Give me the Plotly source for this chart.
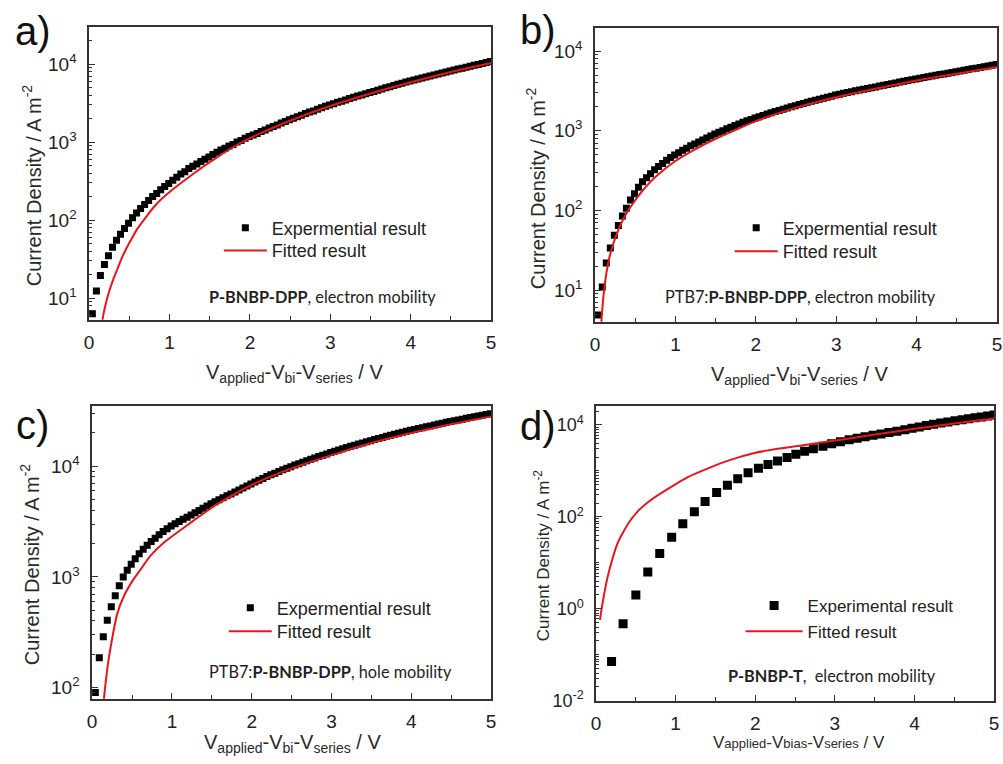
import plotly.graph_objects as go

# ---------------- data ----------------
# voltage sweep (V_applied - V_bi - V_series, V) shared by panels a, b, c
V_SWEEP = [0.04, 0.09, 0.14, 0.19, 0.24, 0.29, 0.34, 0.39, 0.44, 0.49,
           0.54, 0.59, 0.64, 0.69, 0.74, 0.79, 0.84, 0.89, 0.94, 0.99,
           1.04, 1.09, 1.14, 1.19, 1.24, 1.29, 1.34, 1.39, 1.44, 1.49,
           1.54, 1.59, 1.64, 1.69, 1.74, 1.79, 1.84, 1.89, 1.94, 1.99,
           2.04, 2.09, 2.14, 2.19, 2.24, 2.29, 2.34, 2.39, 2.44, 2.49,
           2.54, 2.59, 2.64, 2.69, 2.74, 2.79, 2.84, 2.89, 2.94, 2.99,
           3.04, 3.09, 3.14, 3.19, 3.24, 3.29, 3.34, 3.39, 3.44, 3.49,
           3.54, 3.59, 3.64, 3.69, 3.74, 3.79, 3.84, 3.89, 3.94, 3.99,
           4.04, 4.09, 4.14, 4.19, 4.24, 4.29, 4.34, 4.39, 4.44, 4.49,
           4.54, 4.59, 4.64, 4.69, 4.74, 4.79, 4.84, 4.89, 4.94, 4.99]

# a) P-BNBP-DPP, electron mobility
A_EXP = [6.3, 12.3, 19.5, 27, 35, 45, 55, 66, 78, 91,
         107, 123, 141, 158, 178, 200, 219, 245, 269, 295,
         324, 355, 389, 417, 457, 490, 525, 562, 603, 646,
         692, 741, 794, 832, 891, 933, 1000, 1047, 1122, 1175,
         1230, 1288, 1365, 1430, 1514, 1585, 1660, 1758, 1841, 1928,
         2018, 2113, 2213, 2317, 2427, 2512, 2630, 2754, 2884, 2985,
         3090, 3236, 3350, 3467, 3631, 3758, 3890, 4027, 4169, 4315,
         4467, 4624, 4786, 4955, 5129, 5309, 5495, 5689, 5888, 6067,
         6252, 6442, 6637, 6839, 7047, 7261, 7482, 7709, 7943, 8166,
         8395, 8630, 8872, 9120, 9376, 9638, 9908, 10186, 10471, 10765]
A_FIT_V = [0.16, 0.17, 0.2, 0.25, 0.3, 0.35, 0.4, 0.45, 0.5, 0.55, 0.6, 0.7, 0.8,
           0.9, 1.0, 1.2, 1.4, 1.6, 1.8, 2.0, 2.5, 3.0, 3.5, 4.0, 4.5, 5.0]
A_FIT_J = [4.5, 5.6, 7.9, 12.3, 17.4, 23.4, 31.6, 40.7, 51.3, 63.1, 77.6, 107, 145,
           186, 229, 331, 468, 646, 871, 1122, 1880, 2900, 4200, 5850, 7900, 10300]

# b) PTB7:P-BNBP-DPP, electron mobility
B_EXP = [4.9, 11.0, 21.9, 33.9, 49, 64.6, 85.1, 107, 135, 162,
         195, 229, 257, 288, 324, 355, 389, 427, 462, 495,
         531, 569, 603, 646, 684, 724, 767, 813, 861, 912,
         955, 1000, 1059, 1109, 1161, 1216, 1274, 1334, 1380, 1445,
         1496, 1549, 1622, 1679, 1738, 1799, 1862, 1928, 1995, 2065,
         2138, 2203, 2270, 2339, 2410, 2483, 2559, 2636, 2716, 2799,
         2871, 2944, 3020, 3090, 3162, 3236, 3311, 3388, 3467, 3548,
         3631, 3715, 3802, 3890, 3981, 4074, 4169, 4266, 4365, 4467,
         4560, 4656, 4753, 4853, 4955, 5058, 5164, 5272, 5383, 5495,
         5610, 5728, 5848, 5970, 6095, 6223, 6353, 6486, 6622, 6761]
B_FIT_V = [0.07, 0.08, 0.09, 0.1, 0.11, 0.13, 0.15, 0.18, 0.21, 0.25, 0.3, 0.35, 0.4,
           0.5, 0.6, 0.75, 1.0, 1.25, 1.5, 1.75, 2.0, 2.5, 3.0, 3.5, 4.0, 4.5, 5.0]
B_FIT_J = [2.8, 4.2, 5.75, 7.6, 9.5, 13.8, 18.6, 26.3, 33.9, 44.7, 60.3, 77.6, 95.5,
           135, 182, 263, 417, 589, 794, 1023, 1318, 1950, 2630, 3390, 4266, 5188, 6310]

# c) PTB7:P-BNBP-DPP, hole mobility
C_EXP = [90.2, 186, 288, 407, 537, 676, 832, 1000, 1148, 1303,
         1462, 1622, 1778, 1928, 2089, 2239, 2399, 2570, 2723, 2884,
         3020, 3162, 3311, 3467, 3631, 3802, 3981, 4169, 4365, 4571,
         4764, 4966, 5176, 5395, 5623, 5861, 6109, 6368, 6637, 6918,
         7194, 7482, 7762, 8054, 8356, 8650, 8954, 9268, 9594, 9908,
         10233, 10544, 10864, 11194, 11535, 11885, 12218, 12560, 12912, 13274,
         13646, 13996, 14355, 14723, 15101, 15488, 15849, 16218, 16596, 16982,
         17378, 17783, 18197, 18621, 19011, 19409, 19815, 20230, 20654, 21086,
         21478, 21878, 22284, 22699, 23121, 23550, 23988, 24434, 24889, 25351,
         25763, 26182, 26607, 27040, 27479, 27925, 28379, 28840, 29309, 29785]
C_FIT_V = [0.13, 0.15, 0.17, 0.19, 0.21, 0.25, 0.31, 0.4, 0.52, 0.6, 0.73, 0.9,
           1.14, 1.35, 1.55, 1.75, 1.97, 2.25, 2.5, 3.0, 3.5, 4.0, 4.5, 5.0]
C_FIT_J = [50, 81, 112, 148, 186, 275, 452, 676, 955, 1148, 1549, 2042,
           2754, 3548, 4467, 5433, 6607, 8128, 9550, 12589, 16218, 19953, 23988, 28184]

# d) P-BNBP-T, electron mobility
D_EXP_V = [0.195, 0.34, 0.50, 0.65, 0.80, 0.95, 1.09, 1.235, 1.37, 1.515,
           1.65, 1.78, 1.91, 2.04, 2.16, 2.28, 2.40, 2.51, 2.62, 2.73,
           2.85, 2.96, 3.07, 3.18, 3.28, 3.38, 3.48, 3.58, 3.68, 3.78,
           3.88, 3.97, 4.06, 4.15, 4.24, 4.33, 4.42, 4.51, 4.60, 4.68,
           4.76, 4.84, 4.92, 5.00]
D_EXP_J = [0.071, 0.47, 2.0, 6.3, 16, 36, 71, 129, 216, 339,
           484, 676, 912, 1148, 1380, 1641, 1950, 2291, 2661, 3020,
           3428, 3890, 4315, 4732, 5129, 5559, 5957, 6383, 6839, 7328,
           7852, 8414, 9016, 9661, 10351, 10965, 11614, 12303, 13032, 13646,
           14289, 14962, 15668, 16406]
D_FIT_V = [0.05, 0.07, 0.10, 0.14, 0.20, 0.26, 0.33, 0.43, 0.53, 0.64, 0.74, 0.95,
           1.16, 1.4, 1.57, 1.8, 1.99, 2.28, 2.6, 2.81, 3.1, 3.5, 4.0, 4.5, 5.0]
D_FIT_J = [0.575, 1.0, 2.0, 4.47, 11.2, 24.0, 42.7, 83.2, 135, 200, 269, 457,
           741, 1122, 1479, 1995, 2455, 3020, 3631, 4121, 4842, 6166, 8222, 10715, 13804]

X_TICKS = [0, 1, 2, 3, 4, 5]
X_MINOR = [0.5, 1.5, 2.5, 3.5, 4.5]

# ---------------- layout helpers ----------------
W, H = 1003, 764
FONT = "Liberation Sans, Arial, sans-serif"
NOTE_FONT = "Lato, Open Sans, sans-serif"
TXT = "#222222"
AX = "#333333"
RED = "#e8161b"


def fx(p):
    return p / W


def fy(p):
    return 1 - p / H


def log_minor(lo, hi, skip_major=()):
    vals = []
    for e in range(lo, hi + 1):
        for m in range(1, 10):
            if m == 1 and e in skip_major:
                continue
            vals.append(m * 10.0 ** e)
    return vals


panels = [
    dict(exp_x=V_SWEEP, exp_y=A_EXP, fit_x=A_FIT_V, fit_y=A_FIT_J,
         px=(85, 491), py=(27, 324), yr=[0.722, 4.48], ymaj=[1, 2, 3, 4],
         mlo=0, mhi=4, msize=7, leg="Expermential result",
         note="<b>P-BNBP-DPP</b>, electron mobility", note_xy=(321, 300),
         leg_x=216, rows=(231, 254), iw=43, label="a)", label_xy=(28, 31),
         ytitle_xy=(27, 188), xtitle_xy=(292, 378), tfs=20),
    dict(exp_x=V_SWEEP, exp_y=B_EXP, fit_x=B_FIT_V, fit_y=B_FIT_J,
         px=(596, 1002), py=(28, 326), yr=[0.605, 4.293], ymaj=[1, 2, 3, 4],
         mlo=0, mhi=4, msize=7, leg="Expermential result",
         note="PTB7:<b>P-BNBP-DPP</b>, electron mobility", note_xy=(804, 300),
         leg_x=732, rows=(231, 255), iw=43, label="b)", label_xy=(538, 30),
         ytitle_xy=(536, 191), xtitle_xy=(803, 380), tfs=20),
    dict(exp_x=V_SWEEP, exp_y=C_EXP, fit_x=C_FIT_V, fit_y=C_FIT_J,
         px=(88, 491), py=(411, 708), yr=[1.90, 4.547], ymaj=[2, 3, 4],
         mlo=1, mhi=4, msize=7, leg="Expermential result",
         note="PTB7:<b>P-BNBP-DPP</b>, hole mobility", note_xy=(329, 680),
         leg_x=221, rows=(616, 640), iw=43, label="c)", label_xy=(28, 431),
         ytitle_xy=(25, 572), xtitle_xy=(290, 753), tfs=20),
    dict(exp_x=D_EXP_V, exp_y=D_EXP_J, fit_x=D_FIT_V, fit_y=D_FIT_J,
         px=(597, 999), py=(411, 710), yr=[-2, 4.42], ymaj=[-2, 0, 2, 4],
         mlo=-2, mhi=4, msize=9, leg="Experimental result",
         note="<b>P-BNBP-T</b>,  electron mobility", note_xy=(835, 684),
         leg_x=743, rows=(614, 640), iw=57, label="d)", label_xy=(538, 432),
         ytitle_xy=(542, 563), xtitle_xy=(802, 752), tfs=17),
]

fig = go.Figure()
layout = dict(width=W, height=H, margin=dict(l=0, r=0, t=0, b=0),
              paper_bgcolor="white", plot_bgcolor="white", showlegend=True,
              font=dict(family=FONT, color=TXT), annotations=[])

leg_n = 0
for i, p in enumerate(panels, start=1):
    xa = "x" if i == 1 else f"x{i}"
    ya = "y" if i == 1 else f"y{i}"
    big = p["tfs"] == 20
    lg_names = []
    for _ in range(2):
        leg_n += 1
        lg_names.append("legend" if leg_n == 1 else f"legend{leg_n}")

    fig.add_trace(go.Scatter(x=p["exp_x"], y=p["exp_y"], mode="markers",
                             name=p["leg"], xaxis=xa, yaxis=ya, legend=lg_names[0],
                             showlegend=True,
                             marker=dict(symbol="square", size=p["msize"], color="black",
                                         line=dict(width=0)),
                             cliponaxis=True))
    fig.add_trace(go.Scatter(x=p["fit_x"], y=p["fit_y"], mode="lines",
                             name="Fitted result", xaxis=xa, yaxis=ya, legend=lg_names[1],
                             showlegend=True,
                             line=dict(color=RED, width=2, shape="spline", smoothing=0.6)))

    layout["xaxis" if i == 1 else f"xaxis{i}"] = dict(
        domain=[fx(p["px"][0]), fx(p["px"][1])], range=[0, 5],
        anchor=ya, showline=True, mirror=True, linecolor=AX, linewidth=1.5,
        ticks="inside", ticklen=6, tickwidth=1.2, tickcolor=AX,
        tickmode="array", tickvals=X_TICKS, ticktext=[str(t) for t in X_TICKS],
        tickfont=dict(size=19, family=FONT, color=TXT),
        ticklabelstandoff=5,
        minor=dict(tickmode="array", tickvals=X_MINOR, ticks="inside",
                   ticklen=4, tickwidth=1, tickcolor=AX),
        showgrid=False, zeroline=False, fixedrange=True)
    layout["yaxis" if i == 1 else f"yaxis{i}"] = dict(
        domain=[fy(p["py"][1]), fy(p["py"][0])], type="log", range=p["yr"],
        anchor=xa, showline=True, mirror=True, linecolor=AX, linewidth=1.5,
        ticks="inside", ticklen=6, tickwidth=1.2, tickcolor=AX,
        tickmode="array", tickvals=[10.0 ** e for e in p["ymaj"]],
        ticktext=[f"10<sup>{e}</sup>" for e in p["ymaj"]],
        tickfont=dict(size=19 if big else 18, family=FONT, color=TXT),
        ticklabelstandoff=7,
        minor=dict(tickmode="array",
                   tickvals=log_minor(p["mlo"], p["mhi"], skip_major=p["ymaj"]),
                   ticks="inside", ticklen=3, tickwidth=1, tickcolor=AX),
        showgrid=False, zeroline=False, fixedrange=True)
    for lgname, row in zip(lg_names, p["rows"]):
        layout[lgname] = dict(x=fx(p["leg_x"]), y=fy(row), visible=True,
                              xanchor="left", yanchor="middle", bgcolor="rgba(0,0,0,0)",
                              borderwidth=0,
                              font=dict(size=18 if big else 17, family=FONT, color=TXT),
                              itemwidth=p["iw"], tracegroupgap=0)

    anns = layout["annotations"]
    anns.append(dict(text=p["label"], x=fx(p["label_xy"][0]), y=fy(p["label_xy"][1]),
                     xref="paper", yref="paper", showarrow=False,
                     xanchor="center", yanchor="middle",
                     font=dict(size=40, family=FONT, color="#111111")))
    anns.append(dict(text=p["note"], x=fx(p["note_xy"][0]), y=fy(p["note_xy"][1]),
                     xref="paper", yref="paper", showarrow=False,
                     xanchor="center", yanchor="middle",
                     font=dict(size=16.3, family=NOTE_FONT, color=TXT)))
    anns.append(dict(text="Current Density / A m<sup>-2</sup>",
                     x=fx(p["ytitle_xy"][0]), y=fy(p["ytitle_xy"][1]),
                     xref="paper", yref="paper", showarrow=False, textangle=-90,
                     xanchor="center", yanchor="middle",
                     font=dict(size=p["tfs"], family=FONT, color="#2a2a2a")))
    if big:
        xt = "V<sub>applied</sub>-V<sub>bi</sub>-V<sub>series</sub> / V"
    else:
        s = "<span style='font-size:13px'>"
        xt = f"V{s}applied</span>-V{s}bias</span>-V{s}series</span> / V"
    anns.append(dict(text=xt, x=fx(p["xtitle_xy"][0]), y=fy(p["xtitle_xy"][1]),
                     xref="paper", yref="paper", showarrow=False,
                     xanchor="center", yanchor="middle",
                     font=dict(size=p["tfs"], family=FONT, color="#2a2a2a")))

fig.update_layout(**layout)
fig.write_html("out.html")
